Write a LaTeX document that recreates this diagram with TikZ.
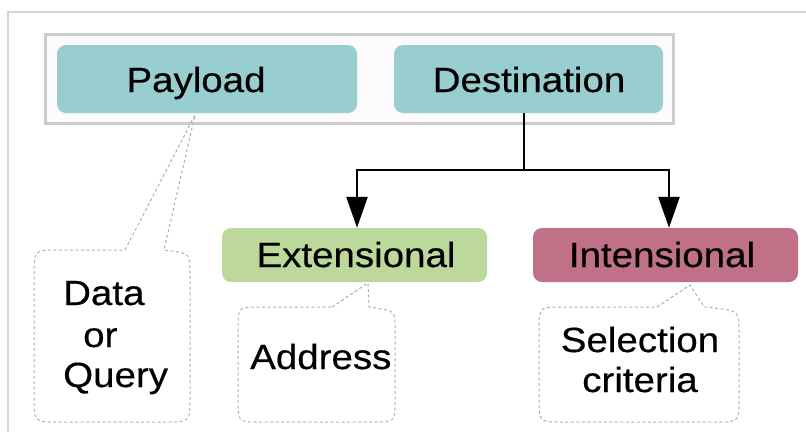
\documentclass[tikz,border=0pt]{standalone}
\usepackage{fontspec}
\setmainfont{Liberation Sans}[FakeStretch=1.1,FakeBold=0.4]
\usetikzlibrary{arrows.meta}
\definecolor{teal1}{RGB}{153,206,208}
\definecolor{green1}{RGB}{188,216,155}
\definecolor{rose1}{RGB}{192,112,135}
\definecolor{contfill}{RGB}{252,250,253}
\definecolor{contline}{RGB}{204,204,204}
\definecolor{frameline}{RGB}{214,214,214}
\definecolor{dashline}{RGB}{175,175,175}
\tikzset{
  box/.style={draw=none, rounded corners=9pt, inner sep=0pt},
  lbl/.style={inner sep=0pt, font=\fontsize{35}{40}\selectfont},
  arr/.style={line width=2.5pt, -{Triangle[width=21pt,length=31pt]}},
  callout/.style={draw=dashline, line width=1pt, dash pattern=on 3pt off 2.5pt},
}
\begin{document}
\begin{tikzpicture}[x=1pt,y=-1pt]
\useasboundingbox (0,0) rectangle (806,432);
% outer frame
\draw[frameline, line width=1.5pt] (8,432) -- (8,12) -- (806,12);
% container
\draw[draw=contline, fill=contfill, line width=2.5pt] (45.5,34.5) rectangle (673.5,123.5);
% boxes
\node[box, fill=teal1, minimum width=300pt, minimum height=68pt] (pay) at (207,79) {};
\node[box, fill=teal1, minimum width=269pt, minimum height=68pt] (dest) at (528.5,79) {};
\node[box, fill=green1, minimum width=265pt, minimum height=54pt] (ext) at (354.5,255) {};
\node[box, fill=rose1, minimum width=265pt, minimum height=54pt] (int) at (665.5,255) {};
% labels
\node[lbl, anchor=base] (tpay) at (196,92) {Payload};
\node[lbl, anchor=base] (tdest) at (529,92) {Destination};
\node[lbl, anchor=base] (text) at (356,267) {Extensional};
\node[lbl, anchor=base] (tint) at (662,267) {Intensional};
% arrows
\coordinate (j) at (524,170);
\draw[arr] (dest.south -| j) -- (j) -| ([xshift=2.5pt]ext.north);
\draw[arr] (dest.south -| j) -- (j) -| ([xshift=3.5pt]int.north);
% callouts
\coordinate (tipP) at (195,115);
\coordinate (tipE) at (368,283);
\coordinate (tipI) at (690,285);
\draw[callout] (125,250) -- (tipP) -- (164,250) .. controls (168,250) .. (172,251) .. controls (190,254) .. (190,275)
  -- (190,397) .. controls (190,422) .. (165,422) -- (59,422) .. controls (34,422) .. (34,397)
  -- (34,275) .. controls (34,250) .. (59,250) -- cycle;
\draw[callout] (332,307) -- (tipE) -- (369,307) .. controls (372,307) .. (376,308) .. controls (395,311) .. (395,329)
  -- (395,400) .. controls (395,422) .. (373,422) -- (260,422) .. controls (238,422) .. (238,400)
  -- (238,329) .. controls (238,307) .. (260,307) -- cycle;
\draw[callout] (657,307) -- (tipI) -- (704,307) .. controls (708,307) .. (714,308) .. controls (739,311) .. (739,332)
  -- (739,399) .. controls (739,422) .. (716,422) -- (562,422) .. controls (539,422) .. (539,399)
  -- (539,330) .. controls (539,307) .. (562,307) -- cycle;
% callout texts
\node[lbl, anchor=base west] (cdata) at (63,305) {Data};
\node[lbl, anchor=base west] (cor) at (83,347) {or};
\node[lbl, anchor=base west] (cquery) at (63,387) {Query};
\node[lbl, anchor=base west] (caddr) at (250,369) {Address};
\node[lbl, anchor=base] (csel) at (640,352) {Selection};
\node[lbl, anchor=base] (ccrit) at (640,392) {criteria};
\end{tikzpicture}
\end{document}
